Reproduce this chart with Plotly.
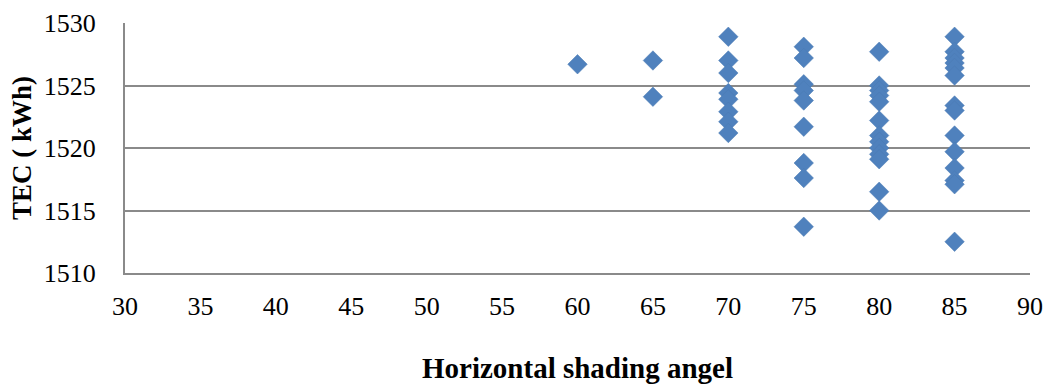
import plotly.graph_objects as go

# Total energy consumption (kWh) readings per horizontal shading angle
angles = [60, 65, 70, 75, 80, 85]
tec_60 = [1526.7]
tec_65 = [1527.0, 1524.1]
tec_70 = [1528.9, 1527.0, 1526.0, 1524.4, 1523.9, 1522.9, 1522.1, 1521.2]
tec_75 = [1528.1, 1527.2, 1525.1, 1524.6, 1523.8, 1521.7, 1518.8, 1517.6, 1513.7]
tec_80 = [1527.7, 1525.0, 1524.6, 1524.2, 1523.7, 1522.2, 1521.0, 1520.5,
          1520.0, 1519.5, 1519.1, 1516.5, 1515.0]
tec_85 = [1528.9, 1527.7, 1527.2, 1526.8, 1526.4, 1525.8, 1523.4, 1523.0,
          1521.0, 1519.7, 1518.4, 1517.4, 1517.1, 1512.5]

x_ticks = [30, 35, 40, 45, 50, 55, 60, 65, 70, 75, 80, 85, 90]
y_ticks = [1510, 1515, 1520, 1525, 1530]

groups = [tec_60, tec_65, tec_70, tec_75, tec_80, tec_85]
xs, ys = [], []
for a, vals in zip(angles, groups):
    xs += [a] * len(vals)
    ys += vals

grid = "#8a8a8a"
font_family = "Liberation Serif, Times New Roman, serif"

fig = go.Figure()
fig.add_trace(go.Scatter(
    x=xs, y=ys, mode="markers",
    marker=dict(symbol="diamond", size=15, color="#4F81BD",
                line=dict(width=0.5, color="#4a7ab3")),
    showlegend=False,
))

fig.update_layout(
    width=1044, height=387,
    margin=dict(l=125, r=14, t=23, b=114, autoexpand=False),
    paper_bgcolor="white", plot_bgcolor="white",
    font=dict(family=font_family, color="black", size=26),
    xaxis=dict(
        range=[30, 90], tickvals=x_ticks, ticktext=[str(t) for t in x_ticks],
        showgrid=False, zeroline=False,
        showline=True, linecolor=grid, linewidth=2, mirror=False,
        ticks="", ticklabelstandoff=9,
        tickfont=dict(size=26, family=font_family),
        title=dict(text="<b>Horizontal shading angel</b>",
                   font=dict(size=29, family=font_family), standoff=37),
        automargin=False,
    ),
    yaxis=dict(
        range=[1510, 1530], tickvals=y_ticks, ticktext=[str(t) for t in y_ticks],
        showgrid=True, gridcolor=grid, gridwidth=2,
        zeroline=False,
        showline=True, linecolor=grid, linewidth=2, mirror=False,
        ticks="", ticklabelstandoff=22,
        tickfont=dict(size=26, family=font_family),
        title=dict(text="<b>TEC ( kWh)</b>",
                   font=dict(size=27, family=font_family), standoff=4),
        automargin=False,
    ),
)

fig.write_html("out.html")
